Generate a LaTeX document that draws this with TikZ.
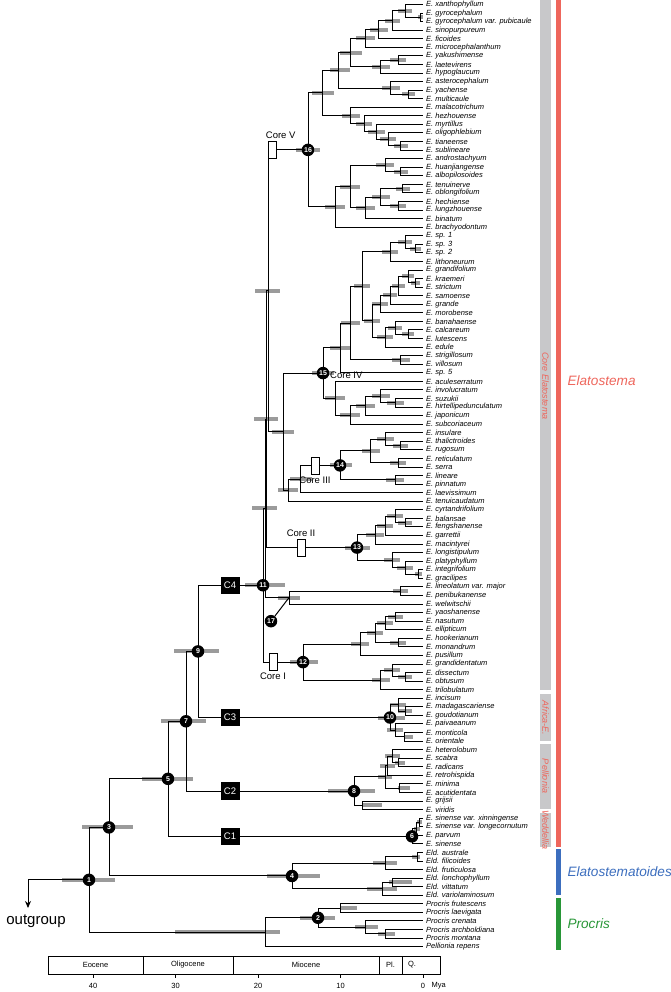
\documentclass[tikz,border=0pt]{standalone}
\usepackage{fontspec}
\setmainfont{Liberation Sans}
\usetikzlibrary{calc,arrows.meta}
\pgfdeclarelayer{bg}
\pgfsetlayers{bg,main}
\definecolor{hpd}{RGB}{155,155,155}
\definecolor{elared}{RGB}{238,102,92}
\definecolor{eldblue}{RGB}{60,110,190}
\definecolor{progreen}{RGB}{40,150,55}
\definecolor{cladegrey}{RGB}{200,200,202}
\newcommand\TY[1]{4.5+(#1-1)*8.565}
\newcommand\tip[2]{\coordinate (t#1) at (423,{\TY{#1}}); \node[tiplab] (l#1) at (t#1) {#2};}
\newcommand\inode[6]{%
  \path let \p1=(#3), \p2=(#4) in coordinate (#1) at (#2pt,{0.5*(\y1+\y2)});
  \begin{pgfonlayer}{bg}\path let \p1=(#1) in [fill=hpd] (#5pt,\y1-2pt) rectangle (#6pt,\y1+2pt);\end{pgfonlayer}
  \draw[br] (#1) |- (#3); \draw[br] (#1) |- (#4);}
\tikzset{
  br/.style={draw=black,line width=1pt},
  tiplab/.style={anchor=west,inner sep=0pt,xshift=3pt,font=\fontsize{7.5}{8}\selectfont\itshape},
  nc/.style={circle,fill=black,text=white,inner sep=0pt,minimum size=12.5pt,font=\fontsize{7}{8}\selectfont\bfseries},
  cbox/.style={fill=black,text=white,inner sep=0pt,minimum width=19pt,minimum height=17.5pt,font=\fontsize{9.5}{10}\selectfont},
  corebox/.style={draw=black,fill=white,line width=0.6pt,inner sep=0pt,minimum width=8pt,minimum height=17pt},
  corelab/.style={inner sep=1pt,font=\fontsize{9.5}{10}\selectfont},
  vlab/.style={rotate=-90,text=elared,inner sep=0pt,font=\fontsize{9}{10}\selectfont\itshape},
}
\begin{document}
\begin{tikzpicture}[x=1pt,y=-1pt]
\useasboundingbox (0,0) rectangle (671,992);
% ---------------- tips
\tip{1}{E. xanthophyllum}
\tip{2}{E. gyrocephalum}
\tip{3}{E. gyrocephalum var. pubicaule}
\tip{4}{E. sinopurpureum}
\tip{5}{E. ficoides}
\tip{6}{E. microcephalanthum}
\tip{7}{E. yakushimense}
\tip{8}{E. laetevirens}
\tip{9}{E. hypoglaucum}
\tip{10}{E. asterocephalum}
\tip{11}{E. yachense}
\tip{12}{E. multicaule}
\tip{13}{E. malacotrichum}
\tip{14}{E. hezhouense}
\tip{15}{E. myrtillus}
\tip{16}{E. oligophlebium}
\tip{17}{E. tianeense}
\tip{18}{E. sublineare}
\tip{19}{E. androstachyum}
\tip{20}{E. huanjiangense}
\tip{21}{E. albopilosoides}
\tip{22}{E. tenuinerve}
\tip{23}{E. oblongifolium}
\tip{24}{E. hechiense}
\tip{25}{E. lungzhouense}
\tip{26}{E. binatum}
\tip{27}{E. brachyodontum}
\tip{28}{E. sp. 1}
\tip{29}{E. sp. 3}
\tip{30}{E. sp. 2}
\tip{31}{E. lithoneurum}
\tip{32}{E. grandifolium}
\tip{33}{E. kraemeri}
\tip{34}{E. strictum}
\tip{35}{E. samoense}
\tip{36}{E. grande}
\tip{37}{E. morobense}
\tip{38}{E. banahaense}
\tip{39}{E. calcareum}
\tip{40}{E. lutescens}
\tip{41}{E. edule}
\tip{42}{E. strigillosum}
\tip{43}{E. villosum}
\tip{44}{E. sp. 5}
\tip{45}{E. aculeserratum}
\tip{46}{E. involucratum}
\tip{47}{E. suzukii}
\tip{48}{E. hirtellipedunculatum}
\tip{49}{E. japonicum}
\tip{50}{E. subcoriaceum}
\tip{51}{E. insulare}
\tip{52}{E. thalictroides}
\tip{53}{E. rugosum}
\tip{54}{E. reticulatum}
\tip{55}{E. serra}
\tip{56}{E. lineare}
\tip{57}{E. pinnatum}
\tip{58}{E. laevissimum}
\tip{59}{E. tenuicaudatum}
\tip{60}{E. cyrtandrifolium}
\tip{61}{E. balansae}
\tip{62}{E. fengshanense}
\tip{63}{E. garrettii}
\tip{64}{E. macintyrei}
\tip{65}{E. longistipulum}
\tip{66}{E. platyphyllum}
\tip{67}{E. integrifolium}
\tip{68}{E. gracilipes}
\tip{69}{E. lineolatum var. major}
\tip{70}{E. penibukanense}
\tip{71}{E. welwitschii}
\tip{72}{E. yaoshanense}
\tip{73}{E. nasutum}
\tip{74}{E. ellipticum}
\tip{75}{E. hookerianum}
\tip{76}{E. monandrum}
\tip{77}{E. pusillum}
\tip{78}{E. grandidentatum}
\tip{79}{E. dissectum}
\tip{80}{E. obtusum}
\tip{81}{E. trilobulatum}
\tip{82}{E. incisum}
\tip{83}{E. madagascariense}
\tip{84}{E. goudotianum}
\tip{85}{E. paivaeanum}
\tip{86}{E. monticola}
\tip{87}{E. orientale}
\tip{88}{E. heterolobum}
\tip{89}{E. scabra}
\tip{90}{E. radicans}
\tip{91}{E. retrohispida}
\tip{92}{E. minima}
\tip{93}{E. acutidentata}
\tip{94}{E. grijsii}
\tip{95}{E. viridis}
\tip{96}{E. sinense var. xinningense}
\tip{97}{E. sinense var. longecornutum}
\tip{98}{E. parvum}
\tip{99}{E. sinense}
\tip{100}{Eld. australe}
\tip{101}{Eld. filicoides}
\tip{102}{Eld. fruticulosa}
\tip{103}{Eld. lonchophyllum}
\tip{104}{Eld. vittatum}
\tip{105}{Eld. variolaminosum}
\tip{106}{Procris frutescens}
\tip{107}{Procris laevigata}
\tip{108}{Procris crenata}
\tip{109}{Procris archboldiana}
\tip{110}{Procris montana}
\tip{111}{Pellionia repens}
% ---------------- Core V
\inode{a1}{420}{t2}{t3}{418}{423}
\inode{a2}{405}{t1}{a1}{398}{412}
\inode{a3}{392}{a2}{t4}{385}{400}
\inode{a4}{378}{a3}{t5}{370}{388}
\inode{a5}{365}{a4}{t6}{356}{375}
\inode{a6}{398}{t7}{t8}{390}{406}
\inode{a7}{380}{a6}{t9}{372}{390}
\inode{a8}{350}{a5}{a7}{340}{362}
\inode{a9}{408}{t11}{t12}{402}{415}
\inode{a10}{390}{t10}{a9}{382}{400}
\inode{a11}{338}{a8}{a10}{330}{350}
\inode{a12}{400}{t17}{t18}{394}{408}
\inode{a13}{388}{t16}{a12}{380}{396}
\inode{a14}{376}{t15}{a13}{368}{385}
\inode{a15}{364}{t14}{a14}{356}{372}
\inode{a16}{350}{t13}{a15}{342}{360}
\inode{a17}{322}{a11}{a16}{312}{334}
\inode{b1}{400}{t20}{t21}{394}{408}
\inode{b2}{385}{t19}{b1}{376}{394}
\inode{b3}{402}{t22}{t23}{396}{410}
\inode{b4}{398}{t24}{t25}{390}{406}
\inode{b5}{380}{b3}{b4}{372}{390}
\inode{b6}{365}{b5}{t26}{356}{375}
\inode{b7}{350}{b2}{b6}{340}{360}
\inode{b8}{335}{b7}{t27}{325}{345}
\inode{n16}{308}{a17}{b8}{296}{320}
% ---------------- Core IV
\inode{c1}{415}{t29}{t30}{410}{421}
\inode{c2}{405}{t28}{c1}{398}{412}
\inode{c3}{390}{c2}{t31}{382}{398}
\inode{c4}{415}{t33}{t34}{411}{420}
\inode{c5}{408}{t32}{c4}{402}{414}
\inode{c6}{398}{c5}{t35}{392}{405}
\inode{c7}{390}{c6}{t36}{383}{397}
\inode{c8}{380}{c7}{t37}{372}{388}
\inode{c9}{408}{t39}{t40}{402}{414}
\inode{c10}{395}{t38}{c9}{388}{402}
\inode{c11}{385}{c10}{t41}{377}{393}
\inode{c12}{372}{c8}{c11}{364}{380}
\inode{c13}{362}{c3}{c12}{354}{370}
\inode{c14}{400}{t42}{t43}{392}{410}
\inode{c15}{350}{c13}{c14}{341}{360}
\inode{c16}{340}{c15}{t44}{330}{350}
\inode{c17}{395}{t47}{t48}{387}{404}
\inode{c18}{380}{t46}{c17}{372}{390}
\inode{c19}{365}{c18}{t49}{356}{375}
\inode{c20}{350}{c19}{t50}{340}{360}
\inode{c21}{335}{t45}{c20}{325}{345}
\inode{n15}{323}{c16}{c21}{312}{334}
% ---------------- Core III
\inode{d1}{400}{t52}{t53}{393}{408}
\inode{d2}{385}{t51}{d1}{377}{394}
\inode{d3}{398}{t54}{t55}{390}{406}
\inode{d5}{370}{d2}{d3}{362}{380}
\inode{d4}{395}{t56}{t57}{386}{404}
\inode{n14}{340}{d5}{d4}{330}{352}
\inode{w1}{300}{n14}{t58}{290}{312}
% ---------------- Core II
\inode{e1}{405}{t61}{t62}{398}{412}
\inode{e2}{395}{t60}{e1}{387}{403}
\inode{e3}{385}{e2}{t63}{377}{393}
\inode{e4}{375}{e3}{t64}{366}{384}
\inode{e5}{418}{t67}{t68}{415}{422}
\inode{e6}{405}{t66}{e5}{397}{413}
\inode{e7}{392}{t65}{e6}{384}{400}
\inode{n13}{357}{e4}{e7}{345}{370}
\inode{e9}{400}{t69}{t70}{393}{408}
\inode{n17}{289}{e9}{t71}{278}{300}
% ---------------- Core I
\inode{f1}{395}{t72}{t73}{388}{403}
\inode{f2}{385}{f1}{t74}{377}{393}
\inode{f3}{398}{t75}{t76}{390}{406}
\inode{f4}{375}{f2}{f3}{367}{383}
\inode{f5}{360}{f4}{t77}{351}{369}
\inode{f6}{405}{t79}{t80}{398}{412}
\inode{f7}{392}{t78}{f6}{384}{400}
\inode{f8}{380}{f7}{t81}{372}{390}
\inode{n12}{303}{f5}{f8}{290}{318}
% ---------------- upper backbone of core Elatostema
\inode{w2}{288}{w1}{t59}{278}{298}
\inode{z1}{283}{n15}{w2}{272}{294}
\inode{x3}{268}{n16}{z1}{255}{280}
\inode{x2}{266}{x3}{n13}{254}{278}
\inode{x1}{265}{x2}{n17}{252}{277}
\inode{n11}{263}{x1}{n12}{245}{285}
% ---------------- Africa
\inode{af1}{405}{t83}{t84}{398}{412}
\inode{af2}{398}{t82}{af1}{390}{406}
\inode{af3}{404}{t86}{t87}{405}{413}
\inode{af4}{395}{t85}{af3}{387}{403}
\inode{n10}{390}{af2}{af4}{378}{405}
% ---------------- Pellionia
\inode{pe1}{398}{t89}{t90}{395}{405}
\inode{pe2}{392}{t88}{pe1}{385}{400}
\inode{pe3}{387}{pe2}{t91}{380}{395}
\inode{pe4}{399}{t92}{t93}{398}{410}
\inode{pe5}{385}{pe3}{pe4}{378}{392}
\inode{pe6}{362}{t94}{t95}{362}{382}
\inode{n8}{354}{pe5}{pe6}{328}{375}
% ---------------- Weddellia
\inode{wd1}{419}{t96}{t97}{417}{422}
\inode{wd2}{416}{wd1}{t98}{414}{420}
\inode{n6}{412}{wd2}{t99}{408}{418}
% ---------------- Elatostematoides
\inode{q1}{417}{t100}{t101}{412}{420}
\inode{q2}{385}{q1}{t102}{373}{397}
\inode{q3}{392}{t103}{t104}{389}{412}
\inode{q4}{382}{q3}{t105}{367}{397}
\inode{n4}{292}{q2}{q4}{267}{320}
% ---------------- Procris
\inode{p1}{340}{t106}{t107}{340}{357}
\inode{p2}{385}{t109}{t110}{378}{395}
\inode{p3}{365}{t108}{p2}{355}{378}
\inode{n2}{318}{p1}{p3}{300}{335}
\inode{pr}{265}{n2}{t111}{175}{280}
% ---------------- deep backbone
\inode{n9}{198}{n11}{n10}{174}{219}
\inode{n7}{186}{n9}{n8}{161}{206}
\inode{n5}{168}{n7}{n6}{142}{193}
\inode{n3}{109}{n5}{n4}{82}{133}
\inode{n1}{89}{n3}{pr}{62}{115}
% outgroup
\coordinate (og) at (28,908);
\draw[br,-{Stealth[length=7pt,width=6pt]}] (n1) -| (og);
\node[font=\fontsize{15}{16}\selectfont,anchor=north] (ogl) at (36,911) {outgroup};
% ---------------- clade boxes
\node[cbox] (C4) at (230,0 |- n11) {C4};
\node[cbox] (C3) at (230,0 |- n10) {C3};
\node[cbox] (C2) at (230,0 |- n8) {C2};
\node[cbox] (C1) at (230,0 |- n6) {C1};
\node[corebox] (kI) at (273,0 |- n12) {};
\node[corelab,below=1pt] (kIl) at (kI.south) {Core I};
\node[corebox] (kII) at (301,0 |- n13) {};
\node[corelab,above=1pt] (kIIl) at (kII.north) {Core II};
\node[corebox] (kIII) at (315,0 |- n14) {};
\node[corelab,below=1pt] (kIIIl) at (kIII.south) {Core III};
\node[corelab,anchor=west] (kIVl) at ([xshift=6pt,yshift=-2pt]n15) {Core IV};
\node[corebox] (kV) at (272,0 |- n16) {};
\node[corelab,anchor=south west] (kVl) at ([xshift=-3pt,yshift=1pt]kV.north west) {Core V};
% ---------------- numbered nodes
\foreach \k in {1,...,16} {\node[nc] (c\k) at (n\k) {\k};}
\node[nc] (c17) at (271,{\TY{73}}) {17};
\draw[br] (c17) -- (n17);
% ---------------- right bars
\fill[cladegrey] (540,0) rectangle (551,690);
\fill[cladegrey] (540,694) rectangle (551,741);
\fill[cladegrey] (540,744) rectangle (551,809);
\fill[cladegrey] (540,813) rectangle (551,847);
\node[vlab] (vCE) at (545.5,386) {Core Elatostema};
\node[vlab] (vAF) at (545.5,718) {Africa-E.};
\node[vlab] (vPE) at (545.5,776) {Pellionia};
\node[vlab] (vWE) at (545.5,830) {Weddellia};
\fill[elared] (556,0) rectangle (561,847);
\fill[eldblue] (556,849) rectangle (561,895);
\fill[progreen] (556,898) rectangle (561,950);
\node[anchor=west,text=elared,font=\fontsize{13.6}{16}\selectfont\itshape] (gE) at (564,381) {Elatostema};
\node[anchor=west,text=eldblue,font=\fontsize{13.6}{16}\selectfont\itshape] (gEl) at (564,872) {Elatostematoides};
\node[anchor=west,text=progreen,font=\fontsize{13.6}{16}\selectfont\itshape] (gP) at (564,924) {Procris};
% ---------------- time scale
\draw[line width=0.5pt] (48,956) rectangle (440,974);
\foreach \b in {143,233,379,402} {\draw[line width=0.5pt] (\b,956) -- (\b,974);}
\foreach \t/\xx in {Eocene/95.5,Oligocene/188,Miocene/306,Pl./390.5,Q./412} {\node[font=\fontsize{7.5}{8}\selectfont] at (\xx,965) {\t};}
\foreach \a in {0,10,20,30,40} {\draw[line width=0.5pt] ({423-8.25*\a},974) -- ({423-8.25*\a},978);
  \node[font=\fontsize{7.5}{8}\selectfont] at ({423-8.25*\a},986) {\a};}
\node[font=\fontsize{7.5}{8}\selectfont,anchor=west] at (428,986) {Mya};
\end{tikzpicture}
\end{document}
